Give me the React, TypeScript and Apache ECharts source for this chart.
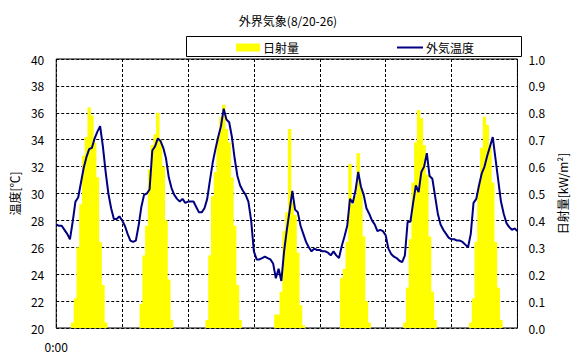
import React, { useEffect, useRef } from "react";
import * as echarts from "echarts";

const FONT = "'Noto Sans CJK JP', 'Noto Sans', sans-serif";

const title = "外界気象(8/20-26)";
const seriesNames = ["日射量", "外気温度"];
const leftAxisName = "温度[℃]";
const rightAxisName = "日射量[kW/m²]";
const firstTickLabel = "0:00";

// Hourly outdoor temperature [°C], 8/20 0:00 ... 8/27 0:00 (169 points)
const tempDay1 = [27.7, 27.6, 27.6, 27.3, 27.0, 26.6, 27.9, 29.4, 29.7, 30.8, 31.9, 32.7, 33.3, 33.4, 34.1, 34.6, 35.0, 33.5, 31.6, 30.0, 28.9, 28.1, 28.1, 28.3];
const tempDay2 = [28.0, 27.6, 27.0, 26.5, 26.4, 26.5, 27.6, 29.0, 29.9, 30.0, 30.3, 33.2, 33.5, 34.1, 33.9, 33.4, 32.6, 31.2, 30.4, 29.9, 29.6, 29.4, 29.6, 29.3];
const tempDay3 = [29.4, 29.4, 29.4, 29.0, 28.6, 28.6, 28.9, 29.6, 31.0, 32.3, 33.3, 34.2, 35.0, 36.3, 35.5, 35.3, 34.2, 32.6, 31.3, 30.6, 30.2, 29.9, 29.4, 28.0];
const tempDay4 = [25.7, 25.1, 25.1, 25.2, 25.3, 25.2, 25.1, 24.8, 23.7, 24.4, 23.5, 25.7, 27.3, 28.7, 30.2, 28.8, 28.6, 27.6, 27.0, 26.4, 26.0, 25.7, 25.9, 25.8];
const tempDay5 = [25.8, 25.7, 25.7, 25.6, 25.4, 25.7, 25.4, 25.2, 26.1, 26.8, 27.6, 29.6, 29.3, 30.2, 31.6, 30.5, 29.9, 28.9, 28.5, 28.0, 27.7, 27.2, 27.3, 27.2];
const tempDay6 = [26.9, 25.9, 25.5, 25.3, 25.2, 25.0, 24.9, 25.4, 27.9, 27.9, 29.3, 30.6, 30.1, 31.6, 32.0, 33.0, 31.3, 31.1, 29.8, 28.5, 27.7, 27.3, 27.0, 26.7];
const tempDay7 = [26.6, 26.6, 26.5, 26.5, 26.4, 26.2, 26.0, 27.0, 29.3, 29.6, 30.6, 31.5, 32.0, 32.8, 33.5, 34.2, 32.6, 31.0, 29.4, 28.5, 27.8, 27.5, 27.3, 27.4, 27.2];

// Hourly solar radiation [kW/m²]
const solarDay1 = [0, 0, 0, 0, 0, 0, 0.02, 0.11, 0.30, 0.46, 0.64, 0.71, 0.82, 0.79, 0.69, 0.56, 0.32, 0.16, 0.02, 0, 0, 0, 0, 0];
const solarDay2 = [0, 0, 0, 0, 0, 0, 0, 0.09, 0.27, 0.38, 0.59, 0.68, 0.72, 0.80, 0.70, 0.60, 0.40, 0.18, 0.03, 0, 0, 0, 0, 0];
const solarDay3 = [0, 0, 0, 0, 0, 0, 0, 0.03, 0.27, 0.49, 0.58, 0.71, 0.785, 0.83, 0.74, 0.69, 0.56, 0.38, 0.16, 0.03, 0, 0, 0, 0];
const solarDay4 = [0, 0, 0, 0, 0, 0, 0, 0, 0.05, 0.05, 0.135, 0.36, 0.43, 0.74, 0.47, 0.42, 0.28, 0.085, 0.01, 0, 0, 0, 0, 0];
const solarDay5 = [0, 0, 0, 0, 0, 0, 0, 0, 0.185, 0.22, 0.32, 0.61, 0.46, 0.49, 0.65, 0.52, 0.34, 0.10, 0.02, 0, 0, 0, 0, 0];
const solarDay6 = [0, 0, 0, 0, 0, 0, 0, 0.02, 0.15, 0.33, 0.54, 0.69, 0.81, 0.78, 0.68, 0.57, 0.34, 0.135, 0.03, 0, 0, 0, 0, 0];
const solarDay7 = [0, 0, 0, 0, 0, 0, 0, 0.02, 0.11, 0.32, 0.53, 0.67, 0.785, 0.755, 0.68, 0.54, 0.32, 0.15, 0.03, 0, 0, 0, 0, 0];

const temperature = [...tempDay1, ...tempDay2, ...tempDay3, ...tempDay4, ...tempDay5, ...tempDay6, ...tempDay7];
const radiation = [...solarDay1, ...solarDay2, ...solarDay3, ...solarDay4, ...solarDay5, ...solarDay6, ...solarDay7];

const BAR_COLOR = "#ffff00";
const LINE_COLOR = "#000080";
const dashed = { color: "#000", width: 1, type: [3, 2] as number[] };

export default function App() {
  const ref = useRef<HTMLDivElement>(null);
  useEffect(() => {
    document.body.style.margin = "0";
    if (!ref.current) return;
    const chart = echarts.init(ref.current, null, { renderer: "svg" });
    const hourCategories = temperature.map((_, h) => String(h));
    const barData = radiation.map((r) => (r > 0 ? r : "-"));
    const lineData = temperature.map((t, h) => [h, t]);
    const legendText = { fontFamily: FONT, fontSize: 12, fill: "#000", verticalAlign: "middle", align: "left" };
    chart.setOption({
      animation: false,
      backgroundColor: "#fff",
      textStyle: { fontFamily: FONT, color: "#000" },
      title: {
        text: title,
        left: "center",
        top: 9,
        textStyle: { fontFamily: FONT, fontSize: 12, fontWeight: "normal", color: "#000" },
      },
      graphic: [
        {
          type: "rect",
          shape: { x: 186.5, y: 36.5, width: 335, height: 20 },
          style: { fill: "#fff", stroke: "#000", lineWidth: 1 },
          z: 0,
        },
        {
          type: "rect",
          shape: { x: 236, y: 43.5, width: 24, height: 8 },
          style: { fill: BAR_COLOR },
          z: 1,
        },
        {
          type: "text",
          x: 263,
          y: 47.5,
          style: { ...legendText, text: seriesNames[0] },
          z: 1,
        },
        {
          type: "line",
          shape: { x1: 397, y1: 47.5, x2: 423, y2: 47.5 },
          style: { stroke: LINE_COLOR, lineWidth: 2 },
          z: 1,
        },
        {
          type: "text",
          x: 426,
          y: 47.5,
          style: { ...legendText, text: seriesNames[1] },
          z: 1,
        },
      ],
      grid: {
        left: 53,
        right: 54,
        top: 59,
        bottom: 35,
        show: true,
        borderColor: "#000",
        borderWidth: 1,
        backgroundColor: "transparent",
      },
      xAxis: [
        {
          type: "value",
          min: 0,
          max: 168,
          interval: 24,
          axisLine: { show: false },
          axisTick: { show: false },
          splitLine: { show: true, lineStyle: dashed },
          axisLabel: {
            color: "#000",
            fontFamily: FONT,
            fontSize: 12,
            margin: 12,
            formatter: (v: number) => (v === 0 ? firstTickLabel : ""),
          },
        },
        {
          type: "category",
          data: hourCategories,
          boundaryGap: false,
          show: false,
        },
      ],
      yAxis: [
        {
          type: "value",
          min: 20,
          max: 40,
          interval: 2,
          name: leftAxisName,
          nameLocation: "middle",
          nameGap: 33,
          nameRotate: 90,
          nameTextStyle: { fontFamily: FONT, fontSize: 12, color: "#000" },
          axisLine: { show: false },
          axisTick: { show: false },
          axisLabel: { color: "#000", fontFamily: FONT, fontSize: 12, margin: 12 },
          splitLine: { show: true, lineStyle: dashed },
        },
        {
          type: "value",
          min: 0,
          max: 1,
          interval: 0.1,
          position: "right",
          name: rightAxisName,
          nameLocation: "middle",
          nameGap: 23,
          nameRotate: 90,
          nameTextStyle: { fontFamily: FONT, fontSize: 12, color: "#000" },
          axisLine: { show: false },
          axisTick: { show: false },
          axisLabel: {
            color: "#000",
            fontFamily: FONT,
            fontSize: 12,
            margin: 11,
            formatter: (v: number) => v.toFixed(1),
          },
          splitLine: { show: false },
        },
      ],
      series: [
        {
          name: seriesNames[0],
          type: "bar",
          xAxisIndex: 1,
          yAxisIndex: 1,
          data: barData,
          barWidth: "125%",
          itemStyle: { color: BAR_COLOR },
          z: 2,
        },
        {
          name: seriesNames[1],
          type: "line",
          xAxisIndex: 0,
          yAxisIndex: 0,
          data: lineData,
          symbol: "none",
          lineStyle: { color: LINE_COLOR, width: 2 },
          itemStyle: { color: LINE_COLOR },
          z: 3,
        },
      ],
    });
    return () => chart.dispose();
  }, []);
  return (
    <div
      ref={ref}
      style={{ position: "absolute", left: 0, top: 0, width: 576, height: 363 }}
    />
  );
}
